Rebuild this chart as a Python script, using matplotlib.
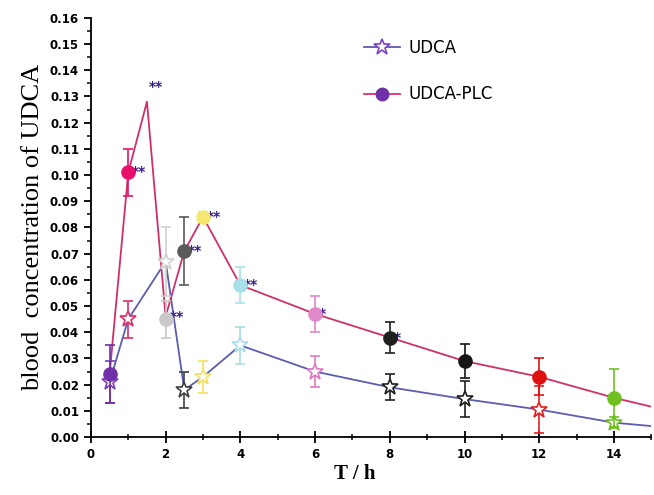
import matplotlib
matplotlib.use('Agg')
import matplotlib.pyplot as plt
from matplotlib.lines import Line2D

# sampling times (h)
t = [0.5, 1, 2, 2.5, 3, 4, 6, 8, 10, 12, 14]

# UDCA
udca = [0.021, 0.045, 0.067, 0.018, 0.023, 0.035, 0.025, 0.019, 0.0145, 0.0105, 0.0055]
udca_err = [0.008, 0.007, 0.013, 0.007, 0.006, 0.007, 0.006, 0.005, 0.007, 0.009, 0.002]

# UDCA-PLC
plc = [0.024, 0.101, 0.045, 0.071, 0.084, 0.058, 0.047, 0.038, 0.029, 0.023, 0.015]
plc_err = [0.011, 0.009, 0.007, 0.013, 0.002, 0.007, 0.007, 0.006, 0.0065, 0.007, 0.011]

# connecting lines (include the unmarked peak / tail points)
udca_line_t = [0.5, 1, 2, 2.5, 3, 4, 6, 8, 10, 12, 14, 15]
udca_line_c = [0.021, 0.045, 0.067, 0.018, 0.023, 0.035, 0.025, 0.019, 0.0145, 0.0105, 0.0055, 0.0042]
plc_line_t = [0.5, 1, 1.5, 2, 2.5, 3, 4, 6, 8, 10, 12, 14, 15]
plc_line_c = [0.024, 0.101, 0.128, 0.046, 0.071, 0.084, 0.058, 0.047, 0.038, 0.029, 0.023, 0.015, 0.0116]

# significance marks
sig_t = [1, 1.5, 2, 2.5, 3, 4, 6, 8]
sig_c = [0.101, 0.128, 0.046, 0.071, 0.084, 0.058, 0.047, 0.038]
sig_txt = ['**', '**', '**', '**', '**', '**', '*', '*']

# per point colours
udca_cols = ['#7a3fb0', '#d8306a', '#d0d0d0', '#404040', '#f0e060', '#a8dce8',
             '#e07ac0', '#202020', '#202020', '#e02020', '#70c020']
plc_cols = ['#7030a8', '#e8106a', '#c8c8c8', '#5a5a5a', '#f5e870', '#a8e0ea',
            '#e088c8', '#202020', '#151515', '#e01010', '#70c020']

fig = plt.figure(figsize=(6.54, 4.95), dpi=100)
ax = fig.add_axes([0.139, 0.117, 0.857, 0.847])

ax.plot(udca_line_t, udca_line_c, color='#5c5cb0', lw=1.3, zorder=2)
ax.plot(plc_line_t, plc_line_c, color='#d0306a', lw=1.3, zorder=2)

for i in range(len(t)):
    ax.errorbar(t[i], udca[i], yerr=udca_err[i], fmt='*', ms=12, mfc='white',
                mec=udca_cols[i], mew=1.2, ecolor=udca_cols[i], elinewidth=1.2,
                capsize=3.5, capthick=1.2, zorder=3)
    ax.errorbar(t[i], plc[i], yerr=plc_err[i], fmt='o', ms=9.5, mfc=plc_cols[i],
                mec=plc_cols[i], ecolor=plc_cols[i], elinewidth=1.2,
                capsize=3.5, capthick=1.2, zorder=4)

for x, y, s in zip(sig_t, sig_c, sig_txt):
    if x == 1.5:
        ax.text(x + 0.05, y + 0.003, s, color='#3a1a8a', fontsize=10,
                fontweight='bold', ha='left', va='bottom')
    else:
        ax.text(x + 0.1, y, s, color='#3a1a8a', fontsize=10,
                fontweight='bold', ha='left', va='center')

ax.set_xlim(0, 15)
ax.set_ylim(0, 0.16)
ax.set_xticks([0, 2, 4, 6, 8, 10, 12, 14])
ax.set_xticks(range(0, 16), minor=True)
ax.set_yticks([i * 0.01 for i in range(17)])
ax.set_yticks([i * 0.005 for i in range(33)], minor=True)
ax.set_yticklabels(['%.2f' % (i * 0.01) for i in range(17)])

ax.spines['top'].set_visible(False)
ax.spines['right'].set_visible(False)
ax.spines['left'].set_linewidth(1.3)
ax.spines['bottom'].set_linewidth(1.3)
ax.tick_params(axis='x', which='major', direction='inout', length=8, width=1.3)
ax.tick_params(axis='x', which='minor', direction='inout', length=5, width=1.1)
ax.tick_params(axis='y', which='major', direction='out', length=5, width=1.3)
ax.tick_params(axis='y', which='minor', direction='out', length=3, width=1.1)
for lab in ax.get_xticklabels() + ax.get_yticklabels():
    lab.set_fontweight('heavy')
    lab.set_fontsize(8.5)

ax.set_xlabel('T / h', family='Liberation Serif', fontsize=15, fontweight='bold')
ax.xaxis.set_label_coords(0.47, -0.065)
ax.set_ylabel('blood  concentration of UDCA', family='Liberation Serif',
              fontsize=19, labelpad=4)

handles = [
    Line2D([], [], color='#5c5cb0', lw=1.3, marker='*', ms=12, mfc='white',
           mec='#8040c0', mew=1.2),
    Line2D([], [], color='#e0306a', lw=1.3, marker='o', ms=9, mfc='#7030a8',
           mec='#7030a8'),
]
ax.legend(handles, ['UDCA', 'UDCA-PLC'], loc='upper left',
          bbox_to_anchor=(0.46, 0.985), frameon=False, fontsize=12,
          labelspacing=1.7, handlelength=2.2, handletextpad=0.5)

fig.savefig('out.png', dpi=100)
